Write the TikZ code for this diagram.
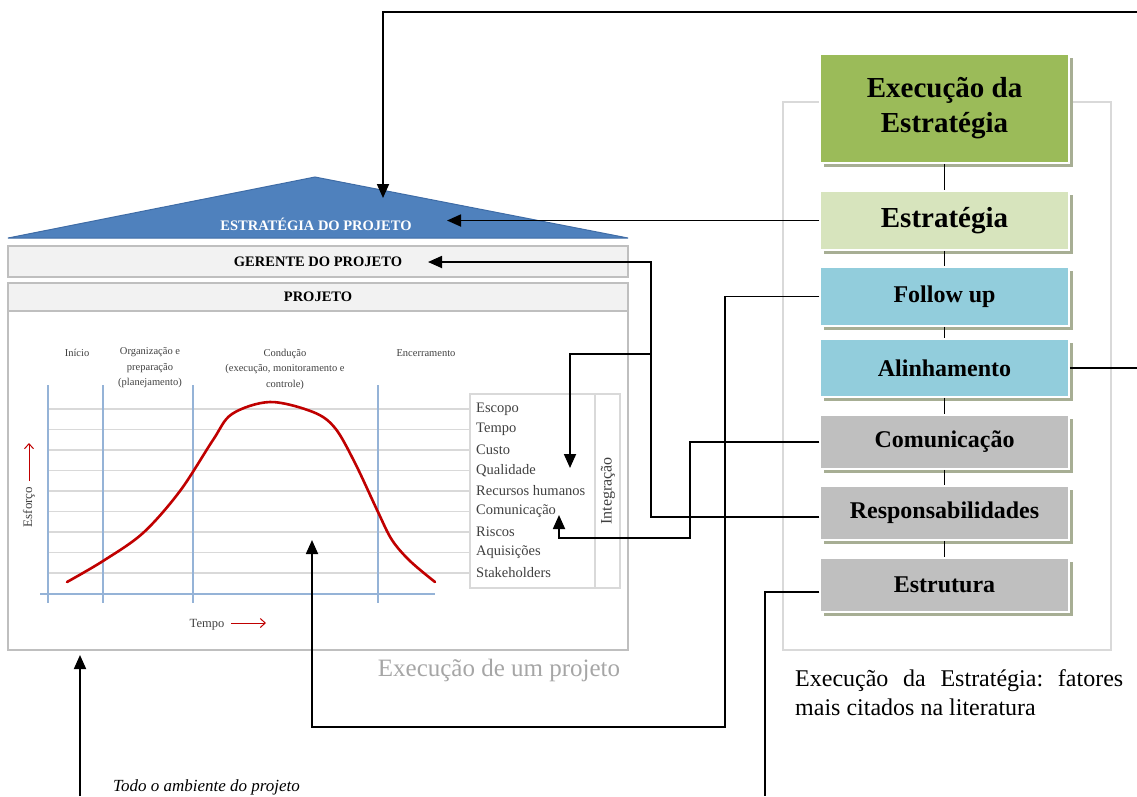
\documentclass[tikz,border=0pt]{standalone}
\usepackage{fontspec}
\setmainfont{Liberation Serif}
\usetikzlibrary{arrows.meta,shadows}
\definecolor{RoofBlue}{HTML}{4F81BD}
\definecolor{RoofEdge}{HTML}{3F6CA6}
\definecolor{PanelFill}{HTML}{F2F2F2}
\definecolor{PanelLine}{HTML}{BFBFBF}
\definecolor{GridGray}{HTML}{D9D9D9}
\definecolor{ChartBlue}{HTML}{95B3D7}
\definecolor{CurveRed}{HTML}{C00000}
\definecolor{TopicGray}{HTML}{404040}
\definecolor{NoteGray}{HTML}{A6A6A6}
\definecolor{ExecGreen}{HTML}{9BBB59}
\definecolor{StratGreen}{HTML}{D7E4BD}
\definecolor{FollowBlue}{HTML}{92CDDC}
\definecolor{FactorGray}{HTML}{BFBFBF}
\definecolor{ShadowOlive}{HTML}{A7AE94}

\begin{document}
\begin{tikzpicture}[x=1pt,y=-1pt,>={Triangle[length=14pt,width=12pt]},
  link/.style={line width=1.8pt},
  panel/.style={draw=PanelLine,fill=PanelFill,line width=1.2pt,inner sep=0pt,
    font=\bfseries\fontsize{14.5}{16}\selectfont},
  factor/.style={draw=white,line width=1.5pt,minimum width=249pt,inner sep=0pt,align=center,
    font=\bfseries\fontsize{24}{28}\selectfont,
    drop shadow={shadow xshift=4pt,shadow yshift=-4pt,fill=ShadowOlive,opacity=1}},
  gridline/.style={GridGray,line width=1.4pt},
  phaseline/.style={ChartBlue,line width=1.4pt},
  phase/.style={align=center,inner sep=0pt,text=TopicGray,font=\fontsize{10.5}{15.5}\selectfont},
  topic/.style={anchor=west,inner sep=0pt,text=TopicGray,font=\fontsize{14.5}{16}\selectfont}]
  \useasboundingbox (0,0) rectangle (1137,796);

  % project house
  \filldraw[fill=RoofBlue,draw=RoofEdge,line width=1pt] (8,238) -- (315,177) -- (628,238) -- cycle;
  \node[text=white,font=\bfseries\fontsize{14.5}{16}\selectfont] (roofText) at (316,224) {ESTRATÉGIA DO PROJETO};
  \node[panel,minimum width=620pt,minimum height=31pt] (gerente) at (318,261.5) {GERENTE DO PROJETO};
  \draw[PanelLine,line width=1.2pt] (8,283) rectangle (628,650);
  \node[panel,minimum width=620pt,minimum height=28pt] (projeto) at (318,297) {PROJETO};

  % effort chart
  \foreach \i in {0,...,8}
    {\draw[gridline] (48,{409+20.5*\i}) -- (470,{409+20.5*\i});}
  \foreach \x in {48,103,193,378}
    {\draw[phaseline] (\x,385) -- (\x,603);}
  \draw[phaseline] (40,594) -- (435,594);
  \draw[CurveRed,line width=2.6pt,line cap=round] plot[smooth,tension=0.55] coordinates
    {(67,582) (103,561) (143,533) (180,491) (213,440) (232,414) (270,402) (313,412)
     (335,428) (355,463) (378,512) (392,540) (410,561) (435,582)};
  \node[phase] (inicio) at (77,353) {Início};
  \node[phase] (organiz) at (150,368) {Organização e\\preparação\\(planejamento)};
  \node[phase] (conducao) at (285,369) {Condução\\(execução, monitoramento e\\controle)};
  \node[phase] (encerra) at (426,353) {Encerramento};
  \node[topic,anchor=center,rotate=90,font=\fontsize{13}{15}\selectfont] (esforco) at (29,507) {Esforço};
  \draw[CurveRed,line width=1pt,-{Straight Barb[length=5pt,width=9pt]}] (29,481) -- (29,443);
  \node[topic,anchor=center,font=\fontsize{12.5}{15}\selectfont] (tempo) at (207,625) {Tempo};
  \draw[CurveRed,line width=1pt,-{Straight Barb[length=5pt,width=9pt]}] (231,623) -- (266,623);

  % knowledge areas
  \draw[gridline,line width=1.2pt] (470,394) rectangle (620,588);
  \draw[gridline,line width=1.2pt] (595,394) -- (595,588);
  \foreach \t [count=\i] in {Escopo,Tempo,Custo,Qualidade,Recursos humanos,Comunicação,Riscos,Aquisições,Stakeholders}
    {\node[topic] (area\i) at (476,{409+20.5*(\i-1)}) {\t};}
  \node[topic,anchor=center,rotate=90,font=\fontsize{16}{18}\selectfont] (integra) at (608,491) {Integração};
  \node[text=NoteGray,anchor=base,font=\fontsize{25}{28}\selectfont] (execProj) at (499,676) {Execução de um projeto};
  \node[anchor=base west,inner sep=0pt,font=\itshape\fontsize{17}{20}\selectfont] (ambiente) at (113,791) {Todo o ambiente do projeto};

  % strategy execution factors
  \draw[GridGray,line width=2pt] (783,102) rectangle (1111,650);
  \node[factor,fill=ExecGreen,minimum height=109pt,font=\bfseries\fontsize{29}{35}\selectfont] (exec) at (944.5,108.5) {Execução da\\Estratégia};
  \node[factor,fill=StratGreen,minimum height=59pt,font=\bfseries\fontsize{29}{35}\selectfont] (estrat) at (944.5,220.5) {Estratégia};
  \node[factor,fill=FollowBlue,minimum height=59pt] (follow) at (944.5,296.5) {Follow up};
  \node[factor,fill=FollowBlue,minimum height=58pt] (alinh) at (944.5,368) {Alinhamento};
  \node[factor,fill=FactorGray,minimum height=54pt] (comun) at (944.5,442) {Comunicação};
  \node[factor,fill=FactorGray,minimum height=54pt] (resp) at (944.5,513) {Responsabilidades};
  \node[factor,fill=FactorGray,minimum height=54pt] (estrut) at (944.5,585) {Estrutura};
  \foreach \a/\b in {exec/estrat,estrat/follow,follow/alinh,alinh/comun,comun/resp,resp/estrut}
    {\draw[line width=1.3pt] (\a.south) -- (\b.north);}
  \node[anchor=north west,text width=328pt,align=justify,inner sep=0pt,
    font=\frenchspacing\fontsize{24}{29}\selectfont] (caption) at (795,669)
    {Execução da Estratégia: fatores mais citados na literatura};

  % links
  \coordinate (topIn) at (1137,12);
  \coordinate (roofTip) at (383,198);
  \coordinate (roofSide) at (447,220);
  \coordinate (gerTip) at (428,262);
  \coordinate (respTurn) at (651,354);
  \coordinate (listTip) at (570,468);
  \coordinate (followTurn) at (725,727);
  \coordinate (curveTip) at (312,540);
  \coordinate (comTurn) at (690,538);
  \coordinate (comTip) at (559,515);
  \coordinate (estrutEnd) at (765,796);
  \coordinate (envStart) at (80,796);
  \coordinate (envTip) at (80,655);
  \draw[link,->] (topIn) -| (roofTip);
  \draw[link] (alinh.east) -- (alinh.east -| topIn);
  \draw[link,->] (estrat.west) -- (estrat.west -| roofSide);
  \draw[link,->] ([yshift=-4pt]resp.west) -| (respTurn) |- (gerTip);
  \draw[link,->] (respTurn) -| (listTip);
  \draw[link,->] (follow.west) -| (followTurn) -| (curveTip);
  \draw[link,->] (comun.west) -| (comTurn) -| (comTip);
  \draw[link] ([yshift=-7pt]estrut.west) -| (estrutEnd);
  \draw[link,->] (envStart) -- (envTip);
\end{tikzpicture}
\end{document}
